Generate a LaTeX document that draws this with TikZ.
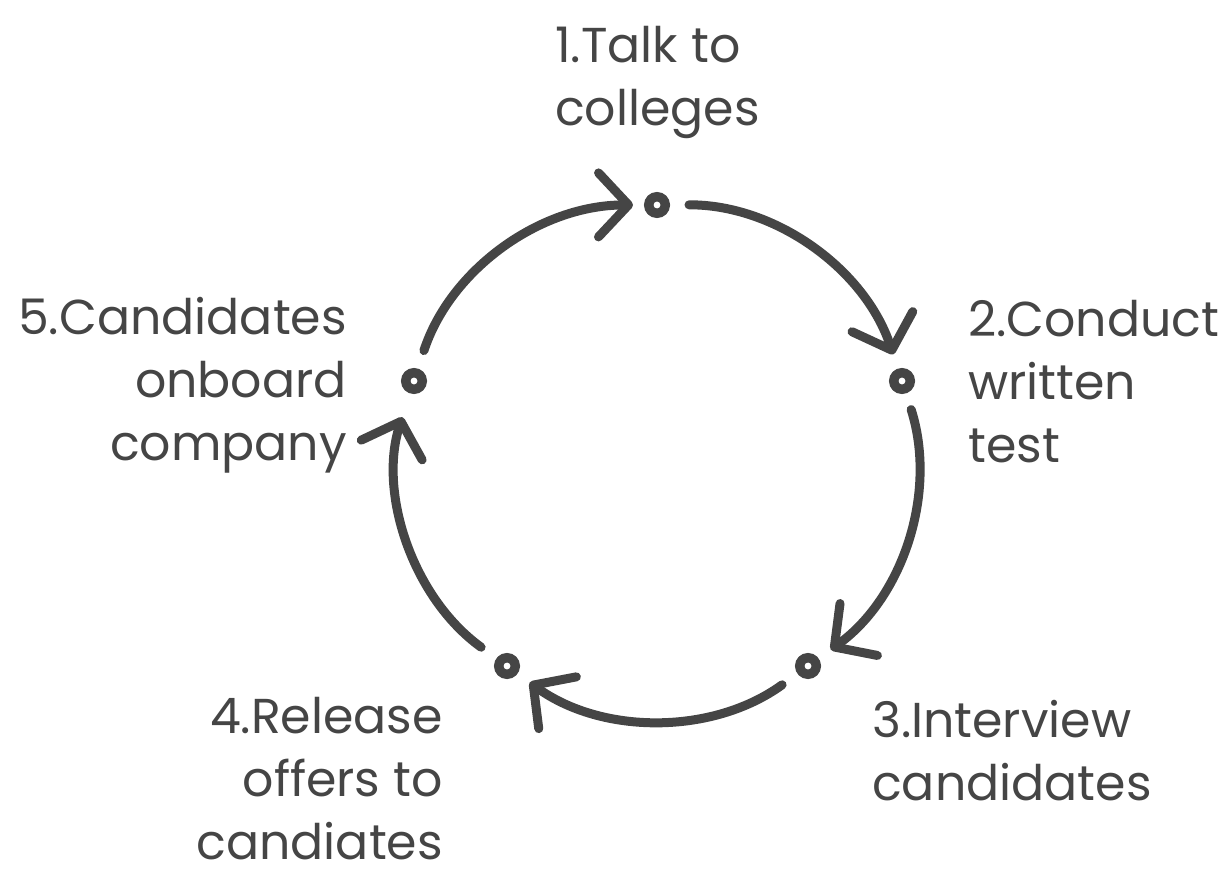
\documentclass[tikz,border=0pt]{standalone}
\usepackage{fontspec}
\setmainfont{Poppins}
\usetikzlibrary{arrows.meta}
\definecolor{ink}{HTML}{454545}
\tikzset{
  dotnode/.style={circle, draw=ink, line width=9.5pt, fill=white, minimum size=16.5pt, inner sep=0pt},
  flow/.style={draw=ink, line width=9pt, line cap=round, line join=round,
    -{Straight Barb[length=30pt,width=64pt,round]}},
  lbl/.style={text=ink, font=\fontsize{49}{63}\selectfont, inner sep=0pt}
}
\begin{document}
\begin{tikzpicture}[x=1pt,y=1pt]
\useasboundingbox (0,0) rectangle (1231,-874);
\node[dotnode] (t)  at (657,-205) {};
\node[dotnode] (r)  at (902,-381) {};
\node[dotnode] (br) at (808,-666) {};
\node[dotnode] (bl) at (507,-666) {};
\node[dotnode] (l)  at (414,-381) {};

\draw[flow, shorten <=32pt, shorten >=24pt] (l.center) to[bend left=36] (t.center);
\draw[flow, shorten <=32pt, shorten >=28pt] (t.center) to[bend left=36] (r.center);
\draw[flow, shorten <=30pt, shorten >=28pt] (r.center) to[bend left=36] (br.center);
\draw[flow, shorten <=32pt, shorten >=28pt] (br.center) to[bend left=36] (bl.center);
\draw[flow, shorten <=32pt, shorten >=38pt] (bl.center) to[bend left=36] (l.center);

\node[lbl, anchor=base west, align=left] (n1) at (555,-126) {1.Talk to\\colleges};
\node[lbl, anchor=base west, align=left] (n2) at (968,-462) {2.Conduct\\written\\test};
\node[lbl, anchor=base west, align=left] (n3) at (872,-800) {3.Interview\\candidates};
\node[lbl, anchor=base east, align=right] (n4) at (443,-859) {4.Release\\offers to\\candiates};
\node[lbl, anchor=base east, align=right] (n5) at (347,-460) {5.Candidates\\onboard\\company};
\end{tikzpicture}
\end{document}
